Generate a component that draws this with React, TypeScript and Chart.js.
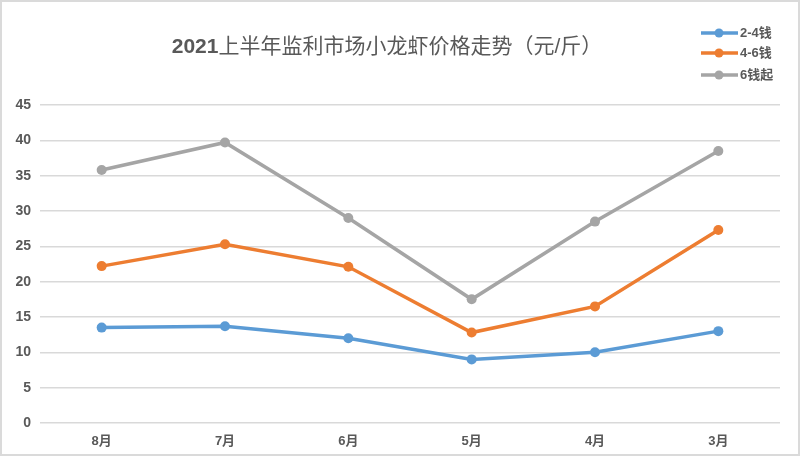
import React, { useEffect, useRef } from "react";
import { Chart, registerables } from "chart.js";

Chart.register(...registerables);

const TITLE_NUM = "2021";
const TITLE_TEXT = "上半年监利市场小龙虾价格走势（元/斤）";
const categories = ["8月", "7月", "6月", "5月", "4月", "3月"];
const seriesNames = ["2-4钱", "4-6钱", "6钱起"];
const series24 = [13.5, 13.7, 12.0, 9.0, 10.0, 13.0];
const series46 = [22.2, 25.3, 22.1, 12.8, 16.5, 27.3];
const series6 = [35.8, 39.7, 29.0, 17.5, 28.5, 38.5];
const colors = ["#5B9BD5", "#ED7D31", "#A5A5A5"];
const yMin = 0;
const yMax = 45;
const yStep = 5;

const FONT = '"Liberation Sans", "Noto Sans CJK SC", sans-serif';
const TEXT_COLOR = "#595959";

const decorPlugin = {
  id: "decor",
  afterDraw(chart: any) {
    const ctx = chart.ctx;
    ctx.save();
    ctx.textBaseline = "middle";
    ctx.fillStyle = TEXT_COLOR;
    ctx.font = `bold 21px ${FONT}`;
    const w1 = ctx.measureText(TITLE_NUM).width;
    ctx.font = `21px ${FONT}`;
    const w2 = ctx.measureText(TITLE_TEXT).width;
    const cx = 385;
    const x = cx - (w1 + w2) / 2;
    ctx.font = `bold 21px ${FONT}`;
    ctx.textAlign = "left";
    ctx.fillText(TITLE_NUM, x, 45);
    ctx.font = `21px ${FONT}`;
    ctx.fillText(TITLE_TEXT, x + w1, 45);
    const ys = [31, 51, 73];
    chart.data.datasets.forEach((ds: any, i: number) => {
      const y = ys[i];
      ctx.strokeStyle = ds.borderColor;
      ctx.lineWidth = 3.5;
      ctx.beginPath();
      ctx.moveTo(699, y);
      ctx.lineTo(736, y);
      ctx.stroke();
      ctx.fillStyle = ds.borderColor;
      ctx.beginPath();
      ctx.arc(717, y, 4.5, 0, Math.PI * 2);
      ctx.fill();
      ctx.fillStyle = TEXT_COLOR;
      ctx.font = `bold 13px ${FONT}`;
      ctx.fillText(ds.label, 738, y);
    });
    ctx.restore();
  },
};

export default function App() {
  const ref = useRef<HTMLCanvasElement | null>(null);
  useEffect(() => {
    document.body.style.margin = "0";
    const canvas = ref.current!;
    const chart = new Chart(canvas, {
      type: "line",
      data: {
        labels: categories,
        datasets: [series24, series46, series6].map((d, i) => ({
          label: seriesNames[i],
          data: d,
          borderColor: colors[i],
          backgroundColor: colors[i],
          pointBackgroundColor: colors[i],
          pointBorderColor: colors[i],
          pointRadius: 5,
          pointBorderWidth: 0,
          borderWidth: 3.5,
          tension: 0,
        })),
      },
      options: {
        animation: false,
        responsive: false,
        maintainAspectRatio: false,
        layout: { padding: { top: 103, right: 18, left: 0, bottom: 0 } },
        plugins: {
          legend: { display: false },
          title: { display: false },
          tooltip: { enabled: false },
        },
        scales: {
          x: {
            offset: true,
            grid: { display: false, drawTicks: false },
            border: { display: false },
            ticks: {
              color: TEXT_COLOR,
              font: { family: FONT, size: 13, weight: "bold" },
              padding: 11,
            },
            afterFit(s: any) {
              s.height = 31;
            },
          },
          y: {
            min: yMin,
            max: yMax,
            grid: { color: "#D9D9D9", lineWidth: 1.5, drawTicks: false },
            border: { display: false },
            ticks: {
              stepSize: yStep,
              color: TEXT_COLOR,
              font: { family: FONT, size: 14, weight: "bold" },
              padding: 9,
            },
            afterFit(s: any) {
              s.width = 38;
            },
          },
        },
      },
      plugins: [decorPlugin],
    });
    return () => chart.destroy();
  }, []);
  return (
    <div
      style={{
        position: "fixed",
        left: 0,
        top: 0,
        width: 800,
        height: 456,
        background: "#fff",
        boxSizing: "border-box",
        border: "2px solid #DADADA",
        overflow: "hidden",
      }}
    >
      <canvas ref={ref} width={796} height={452} style={{ display: "block" }} />
    </div>
  );
}
